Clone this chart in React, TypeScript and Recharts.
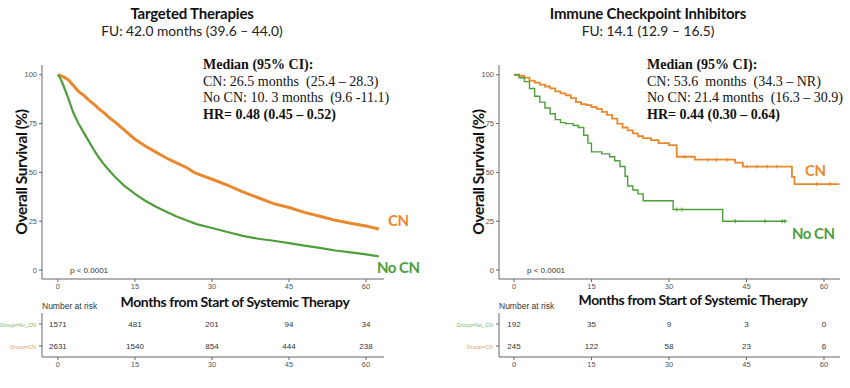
import React from 'react';
import { ComposedChart, Line, XAxis, YAxis, ScatterChart, Scatter } from 'recharts';

// Targeted therapies (left panel)
const ttCnMonths = [0, 1, 2, 3, 4, 5, 6, 7, 8, 9, 10, 11.5, 13, 15, 17, 19, 21, 23, 25, 26.5, 28, 30, 33, 36, 39, 42, 45, 48, 51, 54, 57, 60, 62.5];
const ttCnSurv = [100, 99, 97.5, 94.5, 91.5, 89.5, 87, 85, 82.5, 80.5, 78, 75, 71.5, 67, 63.5, 60.5, 57.5, 55, 52.5, 50, 48.5, 46.5, 43.5, 40, 37, 34, 32, 29.5, 27.5, 25.5, 24, 22.5, 21];
const ttNoCnMonths = [0, 0.5, 1, 2, 3, 4, 5, 6, 7, 8, 9, 10, 11, 12, 13, 14, 15, 17, 19, 21, 23, 25, 27, 30, 33, 36, 39, 42, 45, 48, 51, 54, 57, 60, 62.5];
const ttNoCnSurv = [100, 98, 95, 88, 80.5, 75, 70.5, 66, 61.5, 57.5, 54, 51, 48, 45.5, 43, 41, 39, 35.5, 32.5, 30, 27.5, 25.5, 23.5, 21.5, 19.5, 17.5, 16, 15, 13.8, 12.5, 11.3, 10, 9, 8, 7];

// Immune checkpoint inhibitors (right panel)
const iciCnMonths = [0, 1, 2, 3, 4, 5, 6, 7, 8, 9, 10, 11, 12, 13, 14, 15, 16, 17, 18, 19, 20, 21, 22, 23, 24, 25, 26.5, 28, 30, 31.5, 35, 42.8, 44.3, 53.8, 54.3, 63];
const iciCnSurv = [100, 99.5, 98.5, 97, 96, 95, 94, 93, 91.5, 90.5, 89.5, 88, 86, 85, 84.5, 83.5, 82.5, 81, 79.5, 77.5, 75, 73, 71.5, 70, 68.5, 67.5, 66.5, 65, 64, 58, 56.5, 55, 53, 47.7, 44, 44];
const iciNoCnMonths = [0, 1, 2, 3, 4, 5, 6, 7, 8, 9, 10, 11.5, 12.5, 13.5, 14.3, 15, 17, 18.5, 19.5, 20.5, 21.5, 22, 23, 24, 25, 30.8, 40.4, 52.8];
const iciNoCnSurv = [100, 98.5, 96.5, 93, 89, 86, 83, 80, 77, 75.5, 75, 74, 73, 69, 65, 60.5, 59.5, 58, 56, 53, 48, 43, 41, 39, 35.5, 31, 25, 25];

// censoring marks (right panel)
const iciCnCensorMonths = [33.1, 37.5, 39.2, 41.2, 45.1, 47, 49, 50.9, 58.6, 61.2];
const iciCnCensorSurv = [58, 56.5, 56.5, 56.5, 53, 53, 53, 53, 44, 44];
const iciNoCnCensorMonths = [31.5, 32.5, 42.8, 48.6, 51.9, 52.4];
const iciNoCnCensorSurv = [31, 31, 25, 25, 25, 25];

// numbers at risk
const riskTimes = [0, 15, 30, 45, 60];
const ttRiskNoCn = [1571, 481, 201, 94, 34];
const ttRiskCn = [2631, 1540, 854, 444, 238];
const iciRiskNoCn = [192, 35, 9, 3, 0];
const iciRiskCn = [245, 122, 58, 23, 6];

const xTicks = [0, 15, 30, 45, 60];
const yTicks = [0, 25, 50, 75, 100];

const ORANGE = '#E8892E';
const GREEN = '#4E9E3C';
const AXIS = '#666';
const SANS = 'Lato, "Open Sans", sans-serif';
const ARIAL = '"Liberation Sans", Arial, sans-serif';
const TICK = { fontSize: 7.5, fill: '#555', fontFamily: ARIAL };

const toRows = (months: number[], surv: number[]) => months.map((m, i) => ({ m, s: surv[i] }));
const toRisk = (counts: number[], row: number) => riskTimes.map((t, i) => ({ t, row, n: counts[i] }));

function Txt({ x, y, children, style, center }: any) {
  return (
    <div
      style={{
        position: 'absolute',
        left: center ? x - 200 : x,
        width: center ? 400 : undefined,
        top: y,
        textAlign: center ? 'center' : 'left',
        whiteSpace: 'pre',
        lineHeight: 1,
        transform: 'translateY(-50%)',
        ...style,
      }}
    >
      {children}
    </div>
  );
}

function GroupTick(props: any) {
  const { x, y, payload } = props;
  const isNo = payload.value === 1;
  return (
    <text x={x - 1} y={y} dy={2.5} textAnchor="end" fontSize={5.5} fontFamily={ARIAL} fill={isNo ? '#7BB56E' : '#E0A060'}>
      {isNo ? 'Group=No_CN' : 'Group=CN'}
    </text>
  );
}

const censorShape = (color: string) => (s: any) => (
  <path d={`M${s.cx},${s.cy - 2}V${s.cy + 2}M${s.cx - 1.5},${s.cy}H${s.cx + 1.5}`} stroke={color} strokeWidth={1} />
);

function Panel(p: any) {
  const margin = { top: 65, right: 425 - p.axisRight, left: 0, bottom: 1 };
  const lineType = p.step ? 'stepAfter' : 'linear';
  return (
    <div style={{ position: 'absolute', left: p.offset, top: 0, width: 425, height: 388 }}>
      <Txt x={p.titleX} y={13} center style={{ fontFamily: SANS, fontWeight: 700, fontSize: 15, letterSpacing: -0.2, color: '#111' }}>
        {p.title}
      </Txt>
      <Txt x={p.titleX} y={31} center style={{ fontFamily: SANS, fontSize: 13.8, color: '#222' }}>
        {p.fu}
      </Txt>

      <ComposedChart width={425} height={300} margin={margin}>
        <XAxis
          type="number"
          dataKey="m"
          domain={p.xDomain}
          ticks={xTicks}
          allowDataOverflow
          height={20}
          tickSize={3}
          tick={TICK}
          stroke={AXIS}
        />
        <YAxis
          type="number"
          domain={[-4.6, 105]}
          ticks={yTicks}
          allowDataOverflow
          width={p.axisLeft}
          tickSize={3}
          tick={TICK}
          stroke={AXIS}
        />
        <Line
          data={p.cn}
          dataKey="s"
          type={lineType}
          stroke={ORANGE}
          strokeWidth={p.step ? 1.8 : 3}
          dot={false}
          isAnimationActive={false}
        />
        <Line
          data={p.noCn}
          dataKey="s"
          type={lineType}
          stroke={GREEN}
          strokeWidth={p.step ? 1.4 : 2.2}
          dot={false}
          isAnimationActive={false}
        />
        {p.cnCensor && (
          <Scatter data={p.cnCensor} dataKey="s" shape={censorShape(ORANGE)} isAnimationActive={false} />
        )}
        {p.noCnCensor && (
          <Scatter data={p.noCnCensor} dataKey="s" shape={censorShape(GREEN)} isAnimationActive={false} />
        )}
      </ComposedChart>

      <div style={{ position: 'absolute', left: p.annX, top: 57, fontFamily: '"Liberation Serif", serif', fontSize: 14, lineHeight: '16.7px', color: '#111', whiteSpace: 'pre' }}>
        <div style={{ fontWeight: 700 }}>Median (95% CI):</div>
        {p.medianLines.map((l: string) => (
          <div key={l}>{l}</div>
        ))}
        <div style={{ fontWeight: 700 }}>{p.hr}</div>
      </div>

      <Txt x={p.cnLabel[0]} y={p.cnLabel[1]} style={{ fontFamily: SANS, fontWeight: 700, fontSize: 15, letterSpacing: -0.5, color: ORANGE }}>
        CN
      </Txt>
      <Txt x={p.noCnLabel[0]} y={p.noCnLabel[1]} style={{ fontFamily: SANS, fontWeight: 700, fontSize: 15, letterSpacing: -0.5, color: GREEN }}>
        No CN
      </Txt>

      <div
        style={{
          position: 'absolute',
          left: p.yTitleX - 100,
          top: 172 - 10,
          width: 200,
          height: 20,
          lineHeight: '20px',
          textAlign: 'center',
          transform: 'rotate(-90deg)',
          fontFamily: SANS,
          fontWeight: 700,
          fontSize: 15.5,
          letterSpacing: -0.4,
          color: '#111',
          whiteSpace: 'nowrap',
        }}
      >
        Overall Survival (%)
      </div>

      <Txt x={p.axisLeft + 28} y={270.5} style={{ fontFamily: ARIAL, fontSize: 8, color: '#333' }}>
        p &lt; 0.0001
      </Txt>

      <Txt x={p.xTitleX} y={p.xTitleY} center style={{ fontFamily: SANS, fontWeight: 700, fontSize: 14, letterSpacing: -0.4, color: '#111' }}>
        Months from Start of Systemic Therapy
      </Txt>
      <Txt x={p.axisLeft} y={306} style={{ fontFamily: ARIAL, fontSize: 8.5, color: '#333' }}>
        Number at risk
      </Txt>

      <div style={{ position: 'absolute', left: 0, top: 300 }}>
        <ScatterChart width={425} height={80} margin={{ top: 13, right: 425 - p.axisRight, left: 0, bottom: 3 }}>
          <XAxis
            type="number"
            dataKey="t"
            domain={p.xDomain}
            ticks={xTicks}
            allowDataOverflow
            height={20}
            tickSize={3}
            tick={TICK}
            stroke={AXIS}
          />
          <YAxis
            type="number"
            dataKey="row"
            domain={[-0.5, 1.5]}
            ticks={[0, 1]}
            interval={0}
            width={p.axisLeft}
            tickSize={3}
            tick={<GroupTick />}
            stroke={AXIS}
          />
          {[toRisk(p.riskNoCn, 1), toRisk(p.riskCn, 0)].map((d, k) => (
            <Scatter
              key={k}
              data={d}
              isAnimationActive={false}
              shape={(s: any) => (
                <text x={s.cx} y={s.cy} dy={3} textAnchor="middle" fontSize={8} fill="#333" fontFamily={ARIAL}>
                  {s.payload.n}
                </text>
              )}
            />
          ))}
        </ScatterChart>
      </div>
    </div>
  );
}

export default function App() {
  return (
    <div style={{ position: 'absolute', left: 0, top: 0, width: 850, height: 388, background: '#fff', overflow: 'hidden' }}>
      <Panel
        offset={0}
        axisLeft={42}
        axisRight={384}
        xDomain={[-3.1, 63.5]}
        title="Targeted Therapies"
        fu="FU: 42.0 months (39.6 – 44.0)"
        annX={203}
        medianLines={['CN: 26.5 months  (25.4 – 28.3)', 'No CN: 10. 3 months  (9.6 -11.1)']}
        hr="HR= 0.48 (0.45 – 0.52)"
        cn={toRows(ttCnMonths, ttCnSurv)}
        noCn={toRows(ttNoCnMonths, ttNoCnSurv)}
        step={false}
        riskCn={ttRiskCn}
        riskNoCn={ttRiskNoCn}
        cnLabel={[388, 220]}
        noCnLabel={[377, 267]}
        titleX={192}
        yTitleX={21}
        xTitleX={235}
        xTitleY={302}
      />
      <Panel
        offset={425}
        axisLeft={74}
        axisRight={415}
        xDomain={[-2.9, 63.1]}
        title="Immune Checkpoint Inhibitors"
        fu="FU: 14.1 (12.9 – 16.5)"
        annX={222}
        medianLines={['CN: 53.6  months  (34.3 – NR)', 'No CN: 21.4 months  (16.3 – 30.9)']}
        hr="HR= 0.44 (0.30 – 0.64)"
        cn={toRows(iciCnMonths, iciCnSurv)}
        noCn={toRows(iciNoCnMonths, iciNoCnSurv)}
        cnCensor={toRows(iciCnCensorMonths, iciCnCensorSurv)}
        noCnCensor={toRows(iciNoCnCensorMonths, iciNoCnCensorSurv)}
        step={true}
        riskCn={iciRiskCn}
        riskNoCn={iciRiskNoCn}
        cnLabel={[380, 170]}
        noCnLabel={[367, 233]}
        titleX={223}
        yTitleX={53}
        xTitleX={268}
        xTitleY={300}
      />
    </div>
  );
}
